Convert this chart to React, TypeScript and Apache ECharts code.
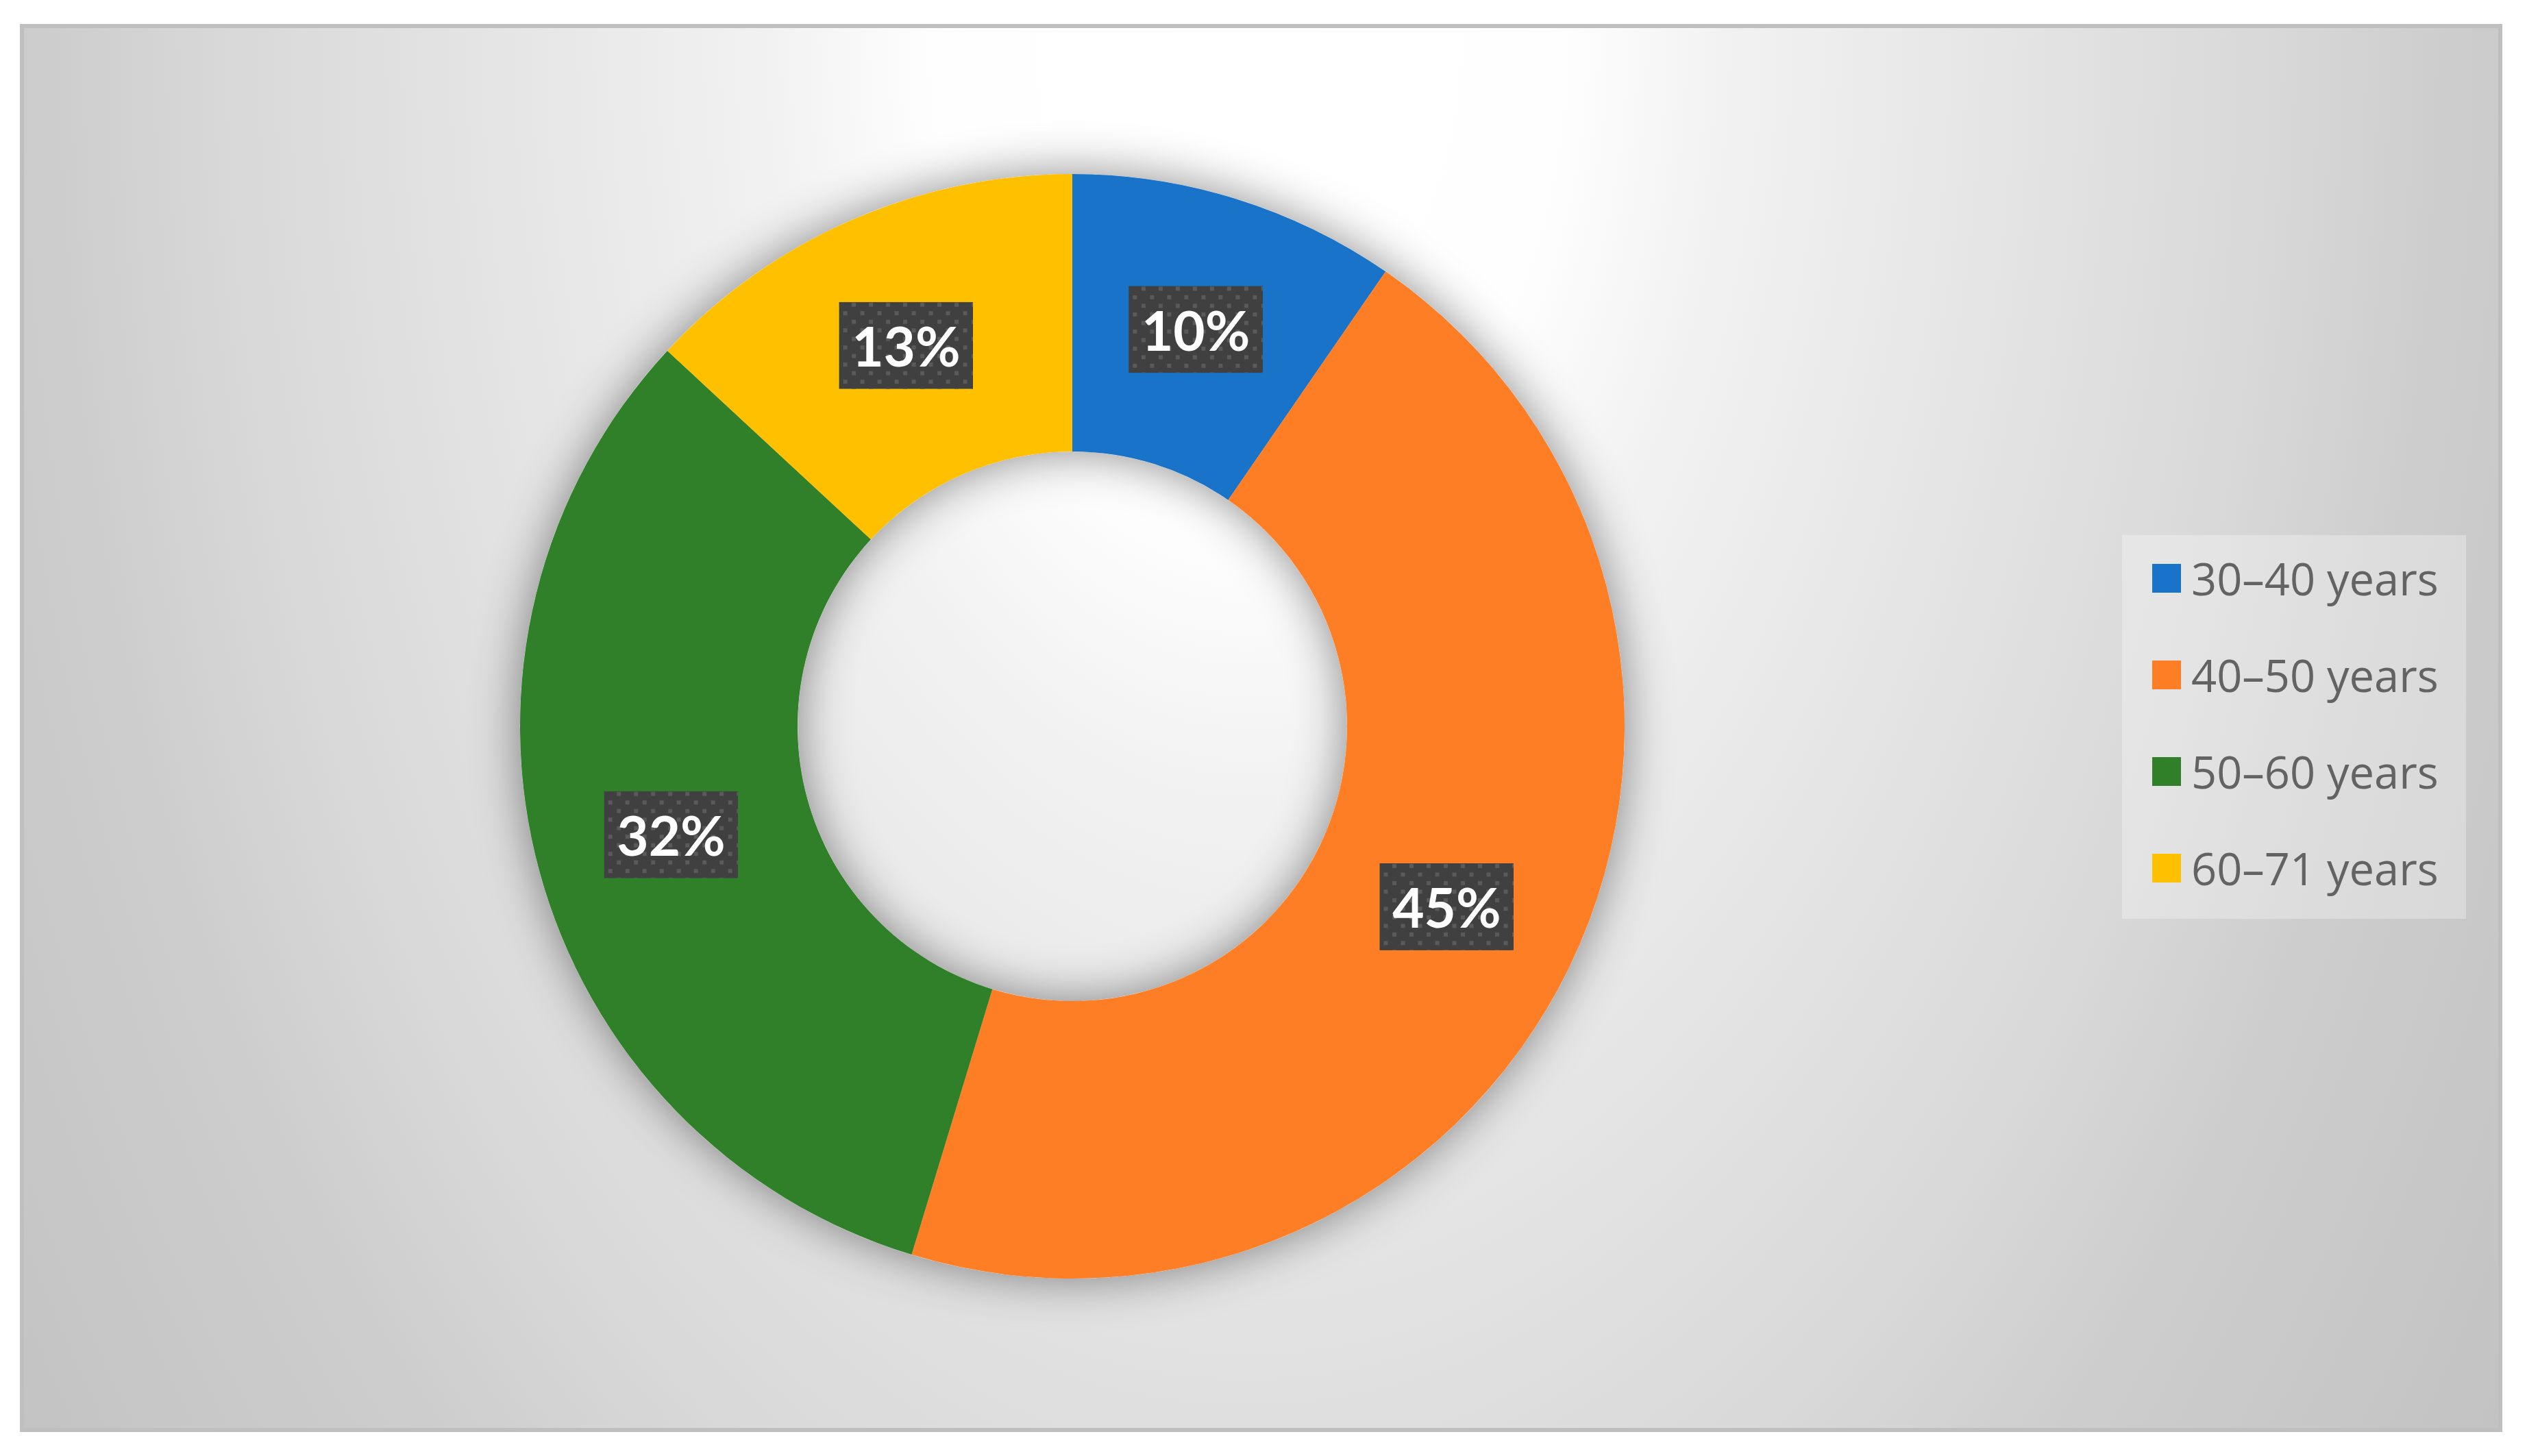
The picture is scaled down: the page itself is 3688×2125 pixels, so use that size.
import React, { useEffect, useRef } from "react";
import * as echarts from "echarts";

const categories = ["30–40 years", "40–50 years", "50–60 years", "60–71 years"];
const shares = [9.6, 45.1, 32.2, 13.1];
const palette = ["#1873C9", "#FE7E26", "#2F8029", "#FFC000"];

function dotPatternUrl(w: number, h: number): string {
  let dots = "";
  for (let row = 0; row * 12.5 < h + 12.5; row++) {
    const cy = 4 + row * 12.5;
    const off = row % 2 === 0 ? 21.7 : 9.2;
    for (let cx = off - 25; cx < w + 25; cx += 25) {
      dots += `<rect x='${(cx - 3).toFixed(1)}' y='${(cy - 3).toFixed(1)}' width='6' height='6'/>`;
    }
  }
  const svg = `<svg xmlns='http://www.w3.org/2000/svg' width='${w}' height='${h}' viewBox='0 0 ${w} ${h}'><rect width='${w}' height='${h}' fill='#404040'/><g fill='#5a5a5a'>${dots}</g></svg>`;
  return "data:image/svg+xml;charset=utf-8," + encodeURIComponent(svg);
}

export default function App() {
  const ref = useRef<HTMLDivElement>(null);

  useEffect(() => {
    if (!ref.current) return;
    const chart = echarts.init(ref.current, undefined, { renderer: "svg" });
    const boxW = 196;
    const boxH = 127;
    const bgUrl = dotPatternUrl(boxW, boxH);
    const k = 1.6;
    const frameW = 3617;
    const frameH = 2049;

    chart.setOption({
      animation: false,
      graphic: [
        {
          type: "rect",
          x: 32,
          y: 38,
          scaleY: k,
          silent: true,
          z: -10,
          shape: { x: 0, y: 0, width: frameW, height: frameH / k },
          style: {
            fill: {
              type: "radial",
              x: 1790,
              y: 0,
              r: 2300,
              global: true,
              colorStops: [
                { offset: 0, color: "#ffffff" },
                { offset: 0.2, color: "#fefefe" },
                { offset: 0.3, color: "#f2f2f2" },
                { offset: 0.46, color: "#e6e6e6" },
                { offset: 0.65, color: "#d8d8d8" },
                { offset: 0.76, color: "#cdcdcd" },
                { offset: 1, color: "#c1c1c1" },
              ],
            },
          },
        },
        {
          type: "rect",
          silent: true,
          z: -9,
          shape: { x: 32, y: 38, width: frameW, height: frameH },
          style: { fill: "none", stroke: "#bfbfbf", lineWidth: 6 },
        },
        {
          type: "rect",
          silent: true,
          z: -8,
          shape: { x: 3097, y: 781, width: 502, height: 560 },
          style: { fill: "rgba(255,255,255,0.3)" },
        },
      ],
      legend: {
        data: categories,
        orient: "vertical",
        left: 3136,
        top: 799,
        itemWidth: 42,
        itemHeight: 42,
        itemGap: 61,
        icon: "rect",
        selectedMode: false,
        textStyle: {
          fontFamily: "Open Sans",
          fontSize: 65,
          color: "#636363",
          lineHeight: 80,
          padding: [0, 0, 0, 10],
        },
      },
      series: [
        {
          type: "pie",
          silent: true,
          center: [1565, 1060],
          radius: [401, 806],
          startAngle: 90,
          label: { show: false },
          labelLine: { show: false },
          itemStyle: {
            color: "#dddddd",
            shadowBlur: 70,
            shadowColor: "rgba(0,0,0,0.45)",
          },
          data: [{ value: 1, name: "__shadow__" }],
        },
        {
          type: "pie",
          silent: true,
          center: [1565, 1060],
          radius: [401, 806],
          startAngle: 90,
          clockwise: true,
          avoidLabelOverlap: false,
          percentPrecision: 0,
          labelLine: { show: false },
          itemStyle: { borderWidth: 0 },
          label: {
            show: true,
            position: "inside",
            formatter: "{d}%",
            color: "#ffffff",
            fontFamily: "Lato",
            fontWeight: "bold",
            fontSize: 80,
            width: boxW,
            height: boxH,
            lineHeight: boxH,
            align: "center",
            verticalAlign: "middle",
            padding: 0,
            backgroundColor: { image: bgUrl },
            shadowBlur: 18,
            shadowColor: "rgba(0,0,0,0.5)",
            shadowOffsetX: 9,
            shadowOffsetY: 11,
          },
          data: categories.map((name, i) => ({
            name,
            value: shares[i],
            itemStyle: { color: palette[i] },
          })),
        },
      ],
    });

    return () => {
      chart.dispose();
    };
  }, []);

  return (
    <div
      ref={ref}
      style={{ position: "absolute", left: 0, top: 0, width: 3688, height: 2125, background: "#ffffff" }}
    />
  );
}
